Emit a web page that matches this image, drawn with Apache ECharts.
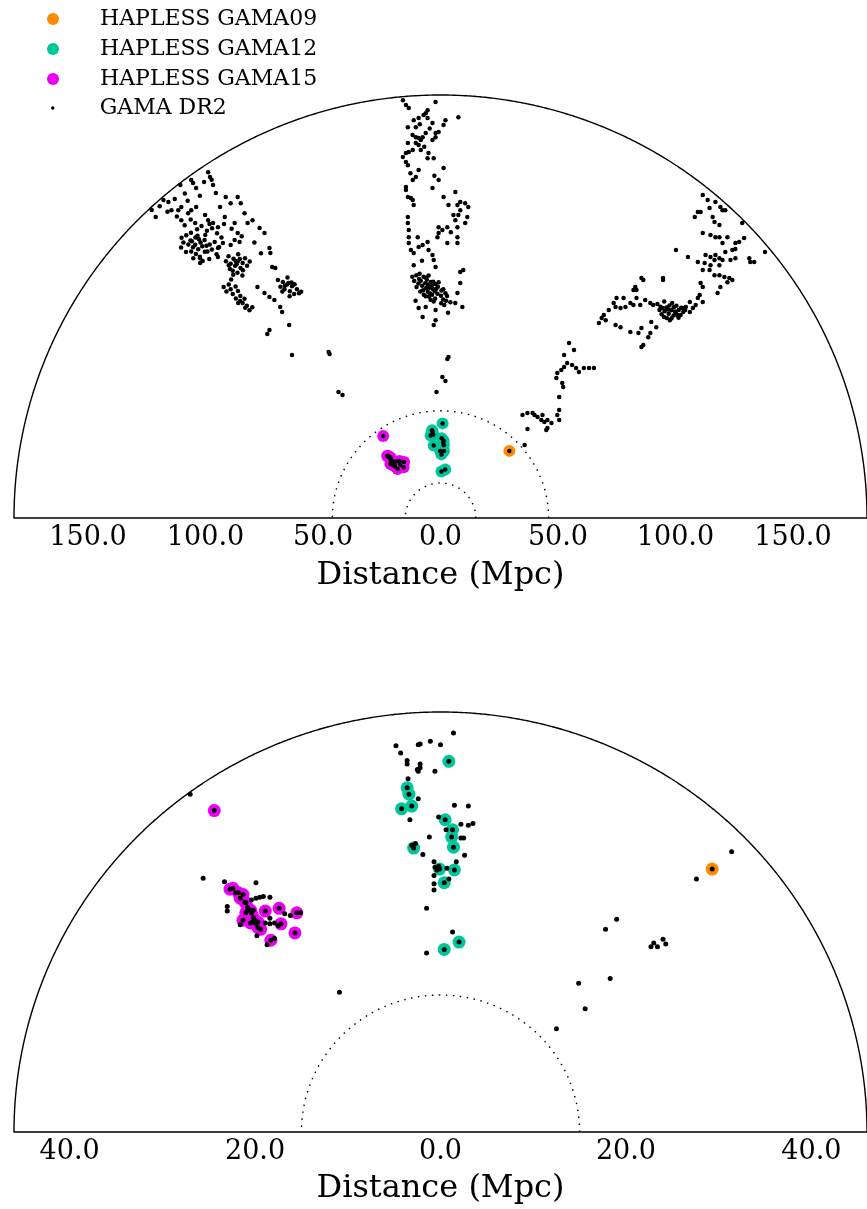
<!DOCTYPE html>
<html><head><meta charset="utf-8">
<script src="https://cdn.jsdelivr.net/npm/echarts@6/dist/echarts.min.js"></script>
<style>html,body{margin:0;padding:0;background:#fff}#c{width:867px;height:1209px}</style>
</head><body><div id="c"></div>
<script>
// ---- data (Mpc) ----
const topRadius = 181.5;
const bottomRadius = 46;
const topTicks = [-150, -100, -50, 0, 50, 100, 150];
const bottomTicks = [-40, -20, 0, 20, 40];
const topRings = [15, 46];
const bottomRings = [15];

const hapless09 = [[29.3,28.8]];
const hapless12 = [[0.9,40.6],[-3.6,37.7],[-3.4,37.0],[-3.1,35.7],[-4.2,35.4],[0.5,34.2],[1.3,33.1],[1.2,32.3],[1.4,31.2],[-2.9,31.1],[-0.1,28.8],[1.5,28.7],[0.4,27.3],[2.0,20.8],[0.4,20.0]];
const hapless15 = [[-24.4,35.2],[-22.7,26.6],[-22.4,26.7],[-21.8,26.2],[-21.3,26.0],[-21.6,25.6],[-21.1,25.2],[-20.8,24.6],[-20.5,24.3],[-20.4,24.0],[-21.3,23.2],[-20.5,22.9],[-19.7,23.0],[-19.4,22.2],[-18.9,24.2],[-17.4,24.5],[-17.2,22.8],[-15.5,24.0],[-15.7,21.8],[-18.3,21.0],[-21.0,24.0],[-20.2,23.5],[-19.7,22.4]];

const dr2G15Far = [[-122.9,132.2],[-121.2,129.1],[-117.9,136.4],[-115.8,135.6],[-110.7,142.9],[-106.1,145.0],[-105.3,143.7],[-104.0,141.6],[-98.9,148.4],[-98.1,146.3],[-96.8,142.9],[-95.6,139.4],[-114.5,132.1],[-111.6,132.1],[-110.3,133.4],[-107.4,130.8],[-106.1,132.1],[-104.0,133.4],[-110.3,127.8],[-104.4,126.6],[-100.2,130.0],[-98.9,127.8],[-96.8,126.6],[-94.7,124.8],[-91.8,129.1],[-91.4,137.7],[-89.3,135.1],[-86.3,137.7],[-85.0,135.1],[-83.4,130.8],[-87.6,126.6],[-86.3,122.3],[-82.1,126.6],[-80.0,127.8],[-77.0,124.4],[-74.9,122.3],
[-119.5,133.8],[-116.2,131.4],[-113.1,136.9],[-108.8,139.2],[-107.6,136.1],[-102.4,138.3],[-100.6,144.2],[-97.4,145.1],[-112.2,129.4],[-108.9,125.6],[-106.3,128.1],[-101.7,125.3],[-99.4,123.2],[-103.6,123.9],[-93.8,133.4],[-92.1,126.2],[-88.9,124.1],[-84.6,120.9],[-79.2,118.2],[-76.4,113.6],
[-108.2,121.3],[-106.4,119.1],[-104.3,120.4],[-102.1,118.2],[-100.4,119.3],[-98.2,117.4],[-105.3,116.2],[-103.1,115.3],[-101.4,116.6],[-99.2,114.3],[-107.3,117.4],[-109.4,118.2],[-104.1,113.3],[-102.4,112.1],[-97.3,115.2],[-96.1,118.4],[-110.2,120.3],[-106.2,122.4],[-103.4,121.1],[-100.1,121.4],[-95.3,113.2],[-98.4,111.1],[-105.2,111.4],[-108.3,114.1],[-101.2,110.3],[-94.2,116.3],[-110.4,116.1],[-106.1,114.4],[-104.4,117.2],[-100.3,114.2],[-97.2,124.3],[-95.1,122.2],[-98.3,126.1],[-93.2,120.4],[-102.8,119.6],[-105.8,118.7],[-99.6,116.8],
[-90.2,112.3],[-88.1,111.2],[-86.3,110.1],[-84.2,109.4],[-87.4,108.2],[-85.1,107.3],[-89.3,109.1],[-83.2,111.4],[-86.1,113.2],[-88.4,106.1],[-84.1,106.3],[-82.3,108.2],[-90.1,108.4],[-87.2,110.3],[-85.4,111.1],[-91.3,110.2],[-81.2,110.1],[-86.4,105.2],[-84.3,104.1],[-88.2,104.4],[-86.8,108.9],[-89.6,106.8],
[-90.1,100.2],[-89.3,98.1],[-87.2,99.3],[-91.1,97.2],[-88.4,96.1],[-86.2,97.4],[-89.1,102.3],[-92.3,99.1],[-87.1,94.2],[-85.3,93.1],[-84.2,92.3],[-83.1,90.2],[-82.4,91.1],[-85.2,95.3],[-81.3,89.1],[-80.1,90.4],[-83.4,94.1],[-86.1,92.2],
[-69.2,102.1],[-67.1,101.3],[-65.3,100.2],[-63.2,99.4],[-61.1,98.2],[-66.4,98.1],[-64.1,97.3],[-62.3,96.1],[-68.1,99.2],[-60.2,96.4],[-65.1,103.2],[-63.4,101.1],[-67.3,97.2],[-62.1,100.3],[-59.3,97.1],[-64.2,95.2],[-66.2,99.6],[-64.7,100.8],
[-72.8,115.8],[-72.4,113.7],[-71.6,107.7],[-70.3,107.3],[-77.9,99.1],[-74.9,96.5],[-72.8,94.8],[-70.7,93.5],[-68.2,90.5],[-67.4,88.4],[-64.4,82.8],[-72.8,80.7],[-73.7,78.9],[-102.3,109.4],[-94.7,112.0],[-102.3,111.5],[-63.2,69.9],[-47.6,71.2],[-47.2,70.4],[-43.4,54.1],[-41.7,52.8],[-87.6,119.3],[-85.5,118.4],[-89.3,117.1],[-92.6,118.0],[-94.7,115.8]];

const dr2G12Far = [[-16.0,179.3],[-2.1,178.5],[-14.7,177.2],[-13.5,175.9],[-5.5,175.0],[-6.3,173.7],[-7.2,172.9],[-9.3,171.6],[-5.5,171.6],[-11.4,170.7],[2.1,170.7],[7.6,172.0],[-3.4,169.5],[1.3,168.6],[-13.9,167.7],[-10.5,167.7],[-6.3,165.2],[-2.1,165.2],[-0.8,165.6],[-10.5,163.4],[-9.3,163.0],[-8.4,162.2],[-7.6,163.4],[-2.1,163.4],[-3.4,162.2],[-10.5,160.9],[-9.3,160.0],[-13.9,160.9],[-8.4,157.9],[-11.8,157.9],[-13.5,157.0],[-14.7,156.6],[-16.0,154.9],[-5.1,156.6],[-5.5,154.4],[-2.9,154.4],[-14.7,152.7],[-13.9,151.4],[-9.3,149.3],[1.3,150.2],[-10.5,146.3],[-11.8,145.0],[-0.8,145.0],[-3.4,141.6],[-14.7,142.0],[-14.7,140.7],[-13.9,137.7],[-12.6,137.3],[-11.8,136.4],[-11.4,134.3],[1.3,137.7],[6.3,139.9],[3.4,134.3],[7.2,134.3],[8.4,135.6],[10.5,135.1],[11.8,133.4],[8.4,132.1],[5.5,130.0],[7.6,130.0],[11.4,129.1],[6.3,127.8],[10.5,126.6],[7.2,124.8],[-0.8,124.8],[2.9,124.8],[0.8,123.6],[-13.9,129.1],[-13.9,126.6],[-13.5,123.6],[-13.5,120.5],[-13.5,118.0],[-12.6,115.0],[-9.7,120.5],[-9.3,116.3],[-7.6,117.1],[-5.5,118.4],[-11.4,113.7],[-0.8,122.3],[-1.3,120.5],[7.2,120.5],[2.9,118.0],[7.2,118.0],[-5.1,115.0],[-3.4,112.8],[-2.9,110.7],[-11.4,108.5],[-2.1,107.7],[8.4,105.5],[9.7,106.4],
[-8.8,168.9],[-4.6,167.1],[-11.9,164.3],[-6.9,159.3],[-12.8,147.9],[-2.6,146.8],[4.4,122.6],[-7.9,110.4],[-10.6,93.2],[3.2,88.1],
[-10.3,104.2],[-9.1,102.6],[-8.4,101.8],[-7.2,103.5],[-6.5,100.7],[-5.3,100.2],[-4.6,98.8],[-3.2,98.1],[-2.4,97.3],[-1.3,96.2],[0.2,95.4],[1.1,93.7],[2.4,93.2],[-7.8,99.6],[-6.1,98.7],[-4.1,101.3],[-2.2,100.4],[-5.4,97.1],[-3.6,95.8],[-7.4,97.7],[-9.4,100.6],[-6.2,103.1],[-4.4,96.3],[-1.1,99.2],[0.4,97.6],[-2.3,94.2],[2.8,95.3],[4.2,92.6],[-11.2,101.7],[-5.1,104.1],[-3.1,101.4],[-0.8,101.2],[1.2,98.2],[-7.1,95.8],[-4.2,93.6],[-8.6,97.2],[2.1,96.4],[0.3,92.1],[-6.3,95.2],[-10.2,99.1],[-5.8,102.2],[-3.7,99.6],[-1.8,98.4],[-8.9,104.8],[-4.9,95.0],[1.6,91.4],[-2.9,92.9],[-12.0,103.5],
[-9.3,90.1],[-6.3,90.5],[-2.1,89.2],[-7.6,86.2],[-2.1,84.9],[-2.9,82.8],[6.3,92.2],[9.3,90.5],[7.2,96.5],[8.4,100.8],[3.4,69.1],[2.9,68.2],[0.8,60.5],[2.1,58.8],[-1.7,54.1]];

const dr2G09Far = [[111.6,138.6],[113.7,136.4],[117.0,135.6],[119.1,133.4],[120.0,132.1],[121.2,132.1],[109.5,131.3],[110.7,131.3],[114.5,133.0],[108.2,129.1],[115.8,129.1],[116.6,127.0],[118.7,125.7],[128.4,126.6],[118.7,120.5],[111.6,122.3],[114.9,121.4],[117.0,120.5],[122.1,120.5],[127.1,118.4],[129.2,120.1],[125.5,118.0],[138.1,114.1],[120.0,118.0],[100.2,115.0],[124.2,115.0],[125.5,115.4],[121.2,114.1],[112.8,112.8],[114.9,112.0],[117.0,112.8],[118.7,111.5],[116.6,110.7],[120.0,110.7],[123.4,110.7],[125.5,111.5],[131.4,111.5],[131.8,109.8],[133.5,109.8],[105.3,112.0],[109.5,109.8],[112.4,109.4],[114.9,108.5],[118.7,108.5],[114.5,106.4],[111.6,106.4],[116.6,104.2],[118.7,104.2],[120.8,103.4],[122.9,103.0],[122.1,101.2],[124.2,102.1],[117.9,96.5],[119.1,99.1],[110.7,100.8],[111.6,99.1],[94.7,103.0],[94.7,102.1],[85.5,103.0],[86.3,102.1],[83.4,97.8],[82.1,97.8],[82.9,99.1],[74.9,94.4],[77.9,94.4],[83.4,94.4],[73.7,92.2],[80.8,92.2],[74.5,90.5],[76.6,90.1],[78.7,90.5],[82.1,91.4],[85.0,91.4],[71.6,89.2],[69.5,87.1],[68.6,85.8],[70.3,84.9],[67.4,83.7],[74.5,82.8],[76.6,81.9],[80.8,79.8],[84.2,79.4],[85.5,81.5],[89.3,79.4],[88.4,77.6],[89.7,84.1],[91.8,81.9],[85.5,73.4],[86.3,74.2],[110.3,95.7],[109.5,94.4],[111.6,92.7],[108.6,91.4],[106.1,92.7],[104.4,90.5],[103.1,90.1],[107.4,90.1],[106.1,88.4],[87.1,93.5],[89.3,92.2],[90.5,91.4],
[92.3,91.8],[93.6,90.6],[95.2,92.9],[96.1,90.3],[97.4,91.2],[98.2,89.1],[99.3,90.4],[100.1,88.2],[101.4,89.3],[102.2,87.1],[103.3,88.4],[95.4,88.7],[97.1,87.6],[99.2,86.9],[96.3,85.8],[94.1,87.4],[98.6,92.3],[100.4,91.1],[93.2,89.2],[101.3,85.9],[98.3,85.7],[95.1,86.2],[97.6,84.8],[102.4,90.2],[104.1,89.3],[96.8,89.5],[99.8,88.6],[94.5,90.1],[100.9,87.0],
[49.7,62.2],[51.4,63.5],[52.6,64.8],[53.9,66.5],[49.3,60.1],[51.8,57.9],[52.2,56.2],[50.5,51.9],[50.5,46.3],[49.7,44.2],[50.5,42.0],[34.9,44.2],[37.0,45.0],[39.2,45.0],[40.0,44.2],[41.3,43.3],[43.4,44.2],[42.9,42.0],[44.2,41.2],[45.5,42.0],[47.2,40.8],[45.5,38.6],[45.0,37.8],[37.0,38.2],[35.8,31.3],[54.7,75.1],[56.8,72.1],[52.6,69.9],[61.0,64.4],[58.9,62.6],[65.3,64.4],[56.0,65.6],[57.7,64.4],[63.2,64.4]];

const dr2Near = [[-27.0,37.0],[-25.6,27.8],[-23.3,27.4],[-19.9,27.3],[-22.1,26.2],[-20.4,25.4],[-19.9,25.6],[-19.5,25.7],[-19.1,25.8],[-18.4,25.7],[-23.0,24.7],[-23.0,24.2],[-21.6,22.7],[-20.0,23.2],[-20.2,23.0],[-19.9,22.8],[-18.9,22.9],[-18.4,23.4],[-18.4,22.8],[-17.9,22.9],[-17.5,22.6],[-16.8,23.9],[-16.2,23.7],[-15.1,24.0],[-19.8,21.5],[-17.9,21.2],[-18.7,20.5],[-20.8,24.3],[-21.0,25.1],[-20.2,24.3],
[1.4,43.7],[-4.8,42.3],[-4.3,41.5],[-2.4,42.4],[-2.2,42.5],[-1.1,42.8],[0,42.4],[-3.6,40.7],[-3.6,40.3],[-2.2,40.3],[-2.5,39.7],[-2.2,39.9],[-2.4,39.5],[-0.6,39.5],[-3.5,38.7],[-2.4,36.5],[-3.3,34.2],[-1.2,32.3],[-3.1,31.4],[-2.7,31.6],[-1.9,30.4],[1.5,35.8],[3.0,35.7],[-0.2,34.5],[0.6,33.1],[2.2,33.7],[3.0,33.6],[3.5,33.8],[2.2,32.2],[2.5,32.2],[2.6,30.3],[1.7,29.6],[-0.7,29.6],[-0.6,29.0],[-0.2,29.1],[-0.4,28.7],[-0.7,28.1],[0.7,28.9],[0.9,27.7],[-0.7,27.2],[-0.7,26.5],[-1.5,24.5],[1.3,21.9],[-1.5,19.6],
[31.4,30.7],[27.6,27.7],[19.0,23.3],[17.8,22.2],[22.7,20.3],[23.0,20.7],[23.4,20.3],[24.0,21.1],[24.3,20.6],[18.3,16.8],[14.9,16.3],[15.6,13.5],[12.5,11.3],[-10.9,15.3]];

// ---- build ----
const FONT = 'DejaVu Serif';
const C09 = '#ff8a00', C12 = '#00c69c', C15 = '#ea00f2';
const haplessAll = hapless09.concat(hapless12, hapless15);
const dr2Top = dr2G15Far.concat(dr2G12Far, dr2G09Far, haplessAll);
const dr2Bottom = dr2Near.concat(haplessAll);

function arcRender(dashed) {
  return function (params, api) {
    const r = api.value(0);
    const pts = [];
    for (let i = 0; i <= 720; i++) {
      const t = Math.PI * i / 720;
      pts.push(api.coord([r * Math.cos(t), r * Math.sin(t)]));
    }
    return {
      type: 'polyline', silent: true,
      shape: { points: pts },
      style: { stroke: '#000', lineWidth: 1.4, fill: null, lineDash: dashed ? [1.5, 5.5] : null }
    };
  };
}

function xAxisFor(idx, R, ticks, gap) {
  return {
    gridIndex: idx, type: 'value', min: -R, max: R,
    axisLine: { show: true, onZero: false, lineStyle: { color: '#000', width: 1.5 } },
    axisTick: { show: false }, splitLine: { show: false },
    axisLabel: { customValues: ticks, formatter: v => Math.abs(v).toFixed(1), fontFamily: FONT, fontSize: 27, color: '#000', margin: 6 },
    name: 'Distance (Mpc)', nameLocation: 'middle', nameGap: gap,
    nameTextStyle: { fontFamily: FONT, fontSize: 32, color: '#000' }
  };
}

function seriesFor(idx, rings, R, dr2, bigSize, smallSize) {
  return [
    { type: 'custom', xAxisIndex: idx, yAxisIndex: idx, renderItem: arcRender(true), data: rings.map(r => [r]), silent: true, z: 1 },
    { type: 'custom', xAxisIndex: idx, yAxisIndex: idx, renderItem: arcRender(false), data: [[R]], silent: true, z: 1, clip: false },
    { name: 'HAPLESS GAMA09', type: 'scatter', xAxisIndex: idx, yAxisIndex: idx, data: hapless09, symbolSize: bigSize, itemStyle: { color: C09, opacity: 1 }, z: 2 },
    { name: 'HAPLESS GAMA12', type: 'scatter', xAxisIndex: idx, yAxisIndex: idx, data: hapless12, symbolSize: bigSize, itemStyle: { color: C12, opacity: 1 }, z: 2 },
    { name: 'HAPLESS GAMA15', type: 'scatter', xAxisIndex: idx, yAxisIndex: idx, data: hapless15, symbolSize: bigSize, itemStyle: { color: C15, opacity: 1 }, z: 2 },
    { name: 'GAMA DR2', type: 'scatter', xAxisIndex: idx, yAxisIndex: idx, data: dr2, symbolSize: smallSize, itemStyle: { color: '#000', opacity: 1 }, z: 3 }
  ];
}

const chart = echarts.init(document.getElementById('c'), null, { renderer: 'canvas' });
chart.setOption({
  animation: false,
  backgroundColor: '#fff',
  legend: [
    { data: ['HAPLESS GAMA09', 'HAPLESS GAMA12', 'HAPLESS GAMA15'], orient: 'vertical', left: 42, top: 3,
      itemWidth: 84, itemHeight: 12, itemGap: 8, icon: 'circle', selectedMode: false,
      textStyle: { fontFamily: FONT, fontSize: 22, color: '#000' } },
    { data: ['GAMA DR2'], orient: 'vertical', left: 46, top: 92,
      itemWidth: 84, itemHeight: 3.5, icon: 'circle', selectedMode: false,
      textStyle: { fontFamily: FONT, fontSize: 22, color: '#000' } }
  ],
  grid: [
    { left: 14, top: 95, width: 862, height: 423 },
    { left: 14, top: 712, width: 860, height: 420 }
  ],
  xAxis: [xAxisFor(0, topRadius, topTicks, 42), xAxisFor(1, bottomRadius, bottomTicks, 41)],
  yAxis: [
    { gridIndex: 0, type: 'value', min: 0, max: topRadius, show: false },
    { gridIndex: 1, type: 'value', min: 0, max: bottomRadius, show: false }
  ],
  series: seriesFor(0, topRings, topRadius, dr2Top, 12, 4.5).concat(seriesFor(1, bottomRings, bottomRadius, dr2Bottom, 13, 5))
});
</script></body></html>
